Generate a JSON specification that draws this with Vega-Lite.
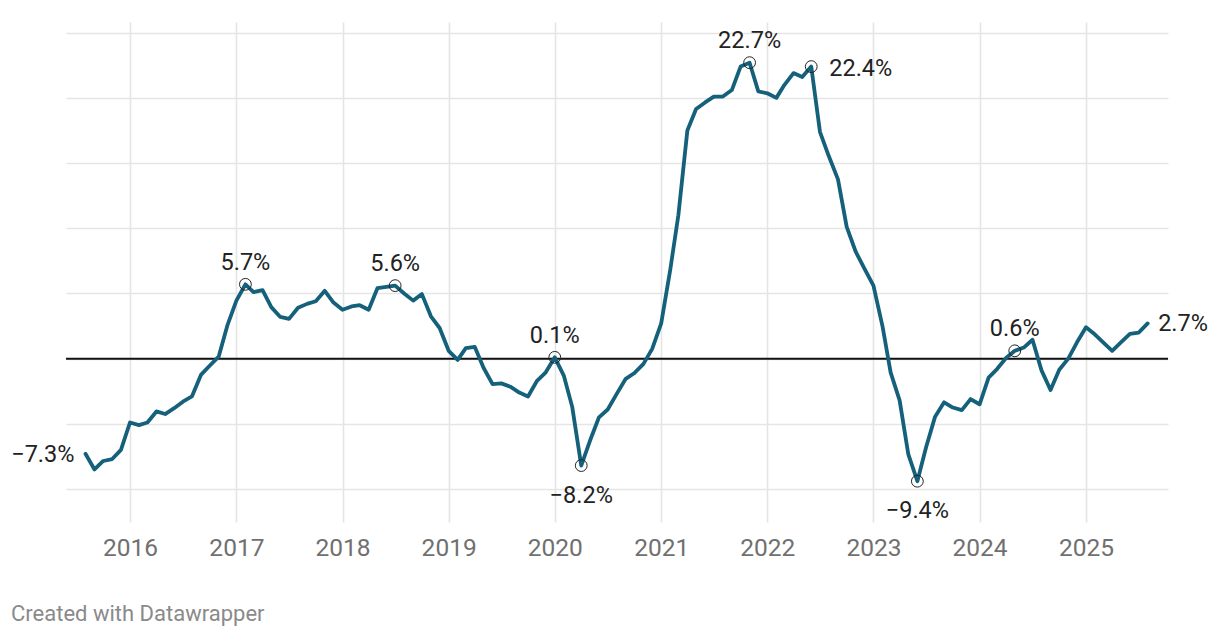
{
  "$schema": "https://vega.github.io/schema/vega-lite/v6.json",
  "width": 1102,
  "height": 500,
  "autosize": {"type": "none"},
  "padding": {"left": 66, "top": 22, "right": 52, "bottom": 116},
  "background": "#ffffff",
  "config": {
    "view": {"stroke": null},
    "font": "Roboto"
  },
  "title": {
    "text": "Created with Datawrapper",
    "orient": "bottom",
    "anchor": "start",
    "frame": "group",
    "font": "Roboto",
    "fontSize": 22,
    "fontWeight": "normal",
    "color": "#8a8a8a",
    "dx": -55,
    "offset": 44
  },
  "data": {
    "values": [
      {"date": "2015-08-01", "value": -7.3}, {"date": "2015-09-01", "value": -8.5}, {"date": "2015-10-01", "value": -7.85}, {"date": "2015-11-01", "value": -7.7}, {"date": "2015-12-01", "value": -7.0},
      {"date": "2016-01-01", "value": -4.9}, {"date": "2016-02-01", "value": -5.1}, {"date": "2016-03-01", "value": -4.9}, {"date": "2016-04-01", "value": -4.05}, {"date": "2016-05-01", "value": -4.25}, {"date": "2016-06-01", "value": -3.8}, {"date": "2016-07-01", "value": -3.3}, {"date": "2016-08-01", "value": -2.9}, {"date": "2016-09-01", "value": -1.25}, {"date": "2016-10-01", "value": -0.55}, {"date": "2016-11-01", "value": 0.15}, {"date": "2016-12-01", "value": 2.55},
      {"date": "2017-01-01", "value": 4.45}, {"date": "2017-02-01", "value": 5.7}, {"date": "2017-03-01", "value": 5.1}, {"date": "2017-04-01", "value": 5.25}, {"date": "2017-05-01", "value": 3.95}, {"date": "2017-06-01", "value": 3.2}, {"date": "2017-07-01", "value": 3.05}, {"date": "2017-08-01", "value": 3.9}, {"date": "2017-09-01", "value": 4.2}, {"date": "2017-10-01", "value": 4.4}, {"date": "2017-11-01", "value": 5.2}, {"date": "2017-12-01", "value": 4.3},
      {"date": "2018-01-01", "value": 3.75}, {"date": "2018-02-01", "value": 4.0}, {"date": "2018-03-01", "value": 4.1}, {"date": "2018-04-01", "value": 3.75}, {"date": "2018-05-01", "value": 5.4}, {"date": "2018-06-01", "value": 5.5}, {"date": "2018-07-01", "value": 5.6}, {"date": "2018-08-01", "value": 5.0}, {"date": "2018-09-01", "value": 4.45}, {"date": "2018-10-01", "value": 4.95}, {"date": "2018-11-01", "value": 3.25}, {"date": "2018-12-01", "value": 2.35},
      {"date": "2019-01-01", "value": 0.6}, {"date": "2019-02-01", "value": -0.1}, {"date": "2019-03-01", "value": 0.8}, {"date": "2019-04-01", "value": 0.9}, {"date": "2019-05-01", "value": -0.7}, {"date": "2019-06-01", "value": -1.95}, {"date": "2019-07-01", "value": -1.9}, {"date": "2019-08-01", "value": -2.15}, {"date": "2019-09-01", "value": -2.6}, {"date": "2019-10-01", "value": -2.9}, {"date": "2019-11-01", "value": -1.7}, {"date": "2019-12-01", "value": -1.05},
      {"date": "2020-01-01", "value": 0.1}, {"date": "2020-02-01", "value": -1.3}, {"date": "2020-03-01", "value": -3.7}, {"date": "2020-04-01", "value": -8.2}, {"date": "2020-05-01", "value": -6.3}, {"date": "2020-06-01", "value": -4.5}, {"date": "2020-07-01", "value": -3.9}, {"date": "2020-08-01", "value": -2.7}, {"date": "2020-09-01", "value": -1.55}, {"date": "2020-10-01", "value": -1.1}, {"date": "2020-11-01", "value": -0.4}, {"date": "2020-12-01", "value": 0.75},
      {"date": "2021-01-01", "value": 2.7}, {"date": "2021-02-01", "value": 6.8}, {"date": "2021-03-01", "value": 11.0}, {"date": "2021-04-01", "value": 17.5}, {"date": "2021-05-01", "value": 19.15}, {"date": "2021-06-01", "value": 19.65}, {"date": "2021-07-01", "value": 20.1}, {"date": "2021-08-01", "value": 20.1}, {"date": "2021-09-01", "value": 20.6}, {"date": "2021-10-01", "value": 22.4}, {"date": "2021-11-01", "value": 22.7}, {"date": "2021-12-01", "value": 20.5},
      {"date": "2022-01-01", "value": 20.35}, {"date": "2022-02-01", "value": 20.0}, {"date": "2022-03-01", "value": 21.0}, {"date": "2022-04-01", "value": 21.9}, {"date": "2022-05-01", "value": 21.6}, {"date": "2022-06-01", "value": 22.4}, {"date": "2022-07-01", "value": 17.4}, {"date": "2022-08-01", "value": 15.5}, {"date": "2022-09-01", "value": 13.75}, {"date": "2022-10-01", "value": 10.1}, {"date": "2022-11-01", "value": 8.2}, {"date": "2022-12-01", "value": 6.9},
      {"date": "2023-01-01", "value": 5.6}, {"date": "2023-02-01", "value": 2.5}, {"date": "2023-03-01", "value": -1.05}, {"date": "2023-04-01", "value": -3.2}, {"date": "2023-05-01", "value": -7.35}, {"date": "2023-06-01", "value": -9.4}, {"date": "2023-07-01", "value": -6.8}, {"date": "2023-08-01", "value": -4.45}, {"date": "2023-09-01", "value": -3.35}, {"date": "2023-10-01", "value": -3.75}, {"date": "2023-11-01", "value": -3.95}, {"date": "2023-12-01", "value": -3.1},
      {"date": "2024-01-01", "value": -3.5}, {"date": "2024-02-01", "value": -1.45}, {"date": "2024-03-01", "value": -0.8}, {"date": "2024-04-01", "value": 0.05}, {"date": "2024-05-01", "value": 0.6}, {"date": "2024-06-01", "value": 0.85}, {"date": "2024-07-01", "value": 1.45}, {"date": "2024-08-01", "value": -0.9}, {"date": "2024-09-01", "value": -2.4}, {"date": "2024-10-01", "value": -0.85}, {"date": "2024-11-01", "value": 0.0}, {"date": "2024-12-01", "value": 1.25},
      {"date": "2025-01-01", "value": 2.4}, {"date": "2025-02-01", "value": 1.85}, {"date": "2025-03-01", "value": 1.25}, {"date": "2025-04-01", "value": 0.6}, {"date": "2025-05-01", "value": 1.25}, {"date": "2025-06-01", "value": 1.9}, {"date": "2025-07-01", "value": 2.0}, {"date": "2025-08-01", "value": 2.7}
    ]
  },
  "layer": [
    {
      "data": {"values": [{}]},
      "mark": {"type": "rule", "color": "#111111", "strokeWidth": 2},
      "encoding": {"y": {"datum": 0, "type": "quantitative"}}
    },
    {
      "encoding": {
        "x": {
          "field": "date",
          "type": "temporal",
          "scale": {
            "type": "utc",
            "domain": [{"year": 2015, "month": 5, "date": 26, "utc": true}, {"year": 2025, "month": 10, "date": 10, "utc": true}]
          },
          "axis": {
            "title": null,
            "format": "%Y",
            "values": [
              {"year": 2016, "utc": true}, {"year": 2017, "utc": true}, {"year": 2018, "utc": true}, {"year": 2019, "utc": true}, {"year": 2020, "utc": true},
              {"year": 2021, "utc": true}, {"year": 2022, "utc": true}, {"year": 2023, "utc": true}, {"year": 2024, "utc": true}, {"year": 2025, "utc": true}
            ],
            "grid": true,
            "gridColor": "#e5e5e5",
            "gridWidth": 1.6,
            "domain": false,
            "ticks": false,
            "labelFont": "Roboto",
            "labelFontSize": 24.5,
            "labelColor": "#707070",
            "labelPadding": 14
          }
        },
        "y": {
          "field": "value",
          "type": "quantitative",
          "scale": {"domain": [-12.53, 25.82], "nice": false, "zero": false},
          "axis": {
            "title": null,
            "values": [-10, -5, 0, 5, 10, 15, 20, 25],
            "grid": true,
            "gridColor": "#e5e5e5",
            "gridWidth": 1.6,
            "labels": false,
            "ticks": false,
            "domain": false
          }
        }
      },
      "layer": [
        {
          "mark": {"type": "line", "color": "#15607a", "strokeWidth": 3.8, "strokeJoin": "round", "strokeCap": "round"}
        },
        {
          "transform": [{"filter": "indexof(['2017-02','2018-07','2020-01','2020-04','2021-11','2022-06','2023-06','2024-05'], utcFormat(toDate(datum.date), '%Y-%m')) >= 0"}],
          "mark": {"type": "point", "shape": "circle", "filled": false, "stroke": "#222222", "strokeWidth": 1, "size": 139, "opacity": 1}
        },
        {
          "transform": [
            {"filter": "indexof(['2017-02','2018-07','2020-01','2021-11','2024-05'], utcFormat(toDate(datum.date), '%Y-%m')) >= 0"},
            {"calculate": "format(datum.value, '.1f') + '%'", "as": "label"}
          ],
          "mark": {"type": "text", "align": "center", "baseline": "alphabetic", "dy": -14.5, "font": "Roboto", "fontSize": 23.5, "color": "#222222"},
          "encoding": {"text": {"field": "label"}}
        },
        {
          "transform": [
            {"filter": "indexof(['2020-04','2023-06'], utcFormat(toDate(datum.date), '%Y-%m')) >= 0"},
            {"calculate": "format(datum.value, '.1f') + '%'", "as": "label"}
          ],
          "mark": {"type": "text", "align": "center", "baseline": "alphabetic", "dy": 37, "font": "Roboto", "fontSize": 23.5, "color": "#222222"},
          "encoding": {"text": {"field": "label"}}
        },
        {
          "transform": [
            {"filter": "indexof(['2022-06'], utcFormat(toDate(datum.date), '%Y-%m')) >= 0"},
            {"calculate": "format(datum.value, '.1f') + '%'", "as": "label"}
          ],
          "mark": {"type": "text", "align": "left", "baseline": "alphabetic", "dx": 18, "dy": 9, "font": "Roboto", "fontSize": 23.5, "color": "#222222"},
          "encoding": {"text": {"field": "label"}}
        },
        {
          "transform": [
            {"filter": "indexof(['2025-08'], utcFormat(toDate(datum.date), '%Y-%m')) >= 0"},
            {"calculate": "format(datum.value, '.1f') + '%'", "as": "label"}
          ],
          "mark": {"type": "text", "align": "left", "baseline": "alphabetic", "dx": 10.5, "dy": 8, "font": "Roboto", "fontSize": 23.5, "color": "#222222"},
          "encoding": {"text": {"field": "label"}}
        },
        {
          "transform": [
            {"filter": "indexof(['2015-08'], utcFormat(toDate(datum.date), '%Y-%m')) >= 0"},
            {"calculate": "format(datum.value, '.1f') + '%'", "as": "label"}
          ],
          "mark": {"type": "text", "align": "right", "baseline": "alphabetic", "dx": -11, "dy": 8, "font": "Roboto", "fontSize": 23.5, "color": "#222222"},
          "encoding": {"text": {"field": "label"}}
        }
      ]
    }
  ]
}
